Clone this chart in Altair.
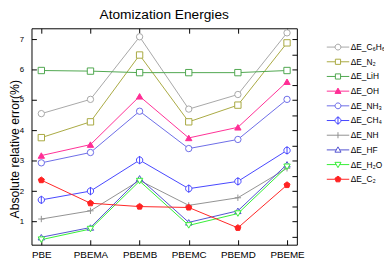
import altair as alt
import pandas as pd

functionals = ["PBE", "PBEMA", "PBEMB", "PBEMC", "PBEMD", "PBEME"]
series = ["ΔE_C₆H₆", "ΔE_N₂", "ΔE_LiH", "ΔE_OH", "ΔE_NH₃",
          "ΔE_CH₄", "ΔE_NH", "ΔE_HF", "ΔE_H₂O", "ΔE_C₂"]

c6h6 = [4.55, 5.02, 7.08, 4.70, 5.18, 7.21]
n2 = [3.76, 4.28, 6.48, 4.28, 4.83, 6.88]
lih = [5.97, 5.95, 5.90, 5.90, 5.90, 5.97]
oh = [3.17, 3.53, 5.12, 3.75, 4.10, 5.60]
nh3 = [2.93, 3.27, 4.63, 3.40, 3.70, 5.02]
ch4 = [1.71, 2.00, 3.02, 2.08, 2.32, 3.34]
nh = [1.08, 1.35, 2.35, 1.53, 1.78, 2.75]
hf = [0.48, 0.80, 2.42, 0.97, 1.35, 2.88]
h2o = [0.40, 0.75, 2.33, 0.87, 1.26, 2.80]
c2 = [2.36, 1.60, 1.49, 1.46, 0.79, 2.20]
values = [c6h6, n2, lih, oh, nh3, ch4, nh, hf, h2o, c2]

colors = ["#a6a6a6", "#a8a840", "#4ea64e", "#ff2d95", "#6a6ae6",
          "#4444ff", "#909090", "#5050d0", "#33ee33", "#ff2222"]
fills = ["white", "white", "white", "#ff2d95", "white",
         "white", "white", "white", "white", "#ff2222"]

PENT = "M0,-1L0.951,-0.309L0.588,0.809L-0.588,0.809L-0.951,-0.309Z"
CIRC_V = "M1,0A1,1,0,1,1,-1,0A1,1,0,1,1,1,0ZM0,-1.3V1.3"
PLUS = "M-1,0H1M0,-1V1"
plot_shapes = ["circle", "square", "square", "triangle-up", "circle",
               CIRC_V, PLUS, "triangle-up", "triangle-down", PENT]

L_CIRC = "M-1,0H-0.26M0.26,0H1M0.26,0A0.26,0.26,0,1,1,-0.26,0A0.26,0.26,0,1,1,0.26,0Z"
L_SQ = "M-1,0H-0.23M0.23,0H1M-0.23,-0.23H0.23V0.23H-0.23Z"
L_TRU = "M-1,0H-0.15M0.15,0H1M0,-0.27L0.27,0.2H-0.27Z"
L_TRD = "M-1,0H-0.15M0.15,0H1M0,0.27L0.27,-0.2H-0.27Z"
L_PLUS = "M-1,0H1M0,-0.27V0.27"
L_CIRC_V = L_CIRC + "M0,-0.38V0.38"
L_PENT = "M-1,0H-0.27M0.27,0H1M0,-0.28L0.266,-0.087L0.165,0.227L-0.165,0.227L-0.266,-0.087Z"
legend_shapes = [L_CIRC, L_SQ, L_SQ, L_TRU, L_CIRC, L_CIRC_V, L_PLUS, L_TRU, L_TRD, L_PENT]

rows = []
for name, vals in zip(series, values):
    for f, v in zip(functionals, vals):
        rows.append({"functional": f, "series": name, "value": v})
df = pd.DataFrame(rows)

FONT = "Liberation Sans"
xscale = alt.Scale(type="point", domain=functionals, padding=0.2)
yscale = alt.Scale(domain=[0.235, 7.36], nice=False, zero=False)
half_ticks = [0.5 * i for i in range(1, 15)]

base = alt.Chart(df)

lines = base.mark_line(strokeWidth=1).encode(
    x=alt.X("functional:N", scale=xscale, sort=functionals,
            axis=alt.Axis(orient="bottom", ticks=False, tickSize=0, domain=False,
                          labelFontSize=10, labelPadding=5, labelAngle=0,
                          labelFont=FONT, labelColor="black", title=None)),
    y=alt.Y("value:Q", scale=yscale,
            axis=alt.Axis(orient="left", values=[1, 2, 3, 4, 5, 6, 7], ticks=False,
                          tickSize=0, domain=False, grid=False, labelFontSize=8,
                          labelPadding=8, labelFont=FONT, labelColor="black",
                          title="Absolute relative error(%)", titleFont=FONT,
                          titleFontSize=12.5, titleFontWeight="normal",
                          titleColor="black", titleX=-13, titleY=123,
                          titleBaseline="alphabetic")),
    color=alt.Color("series:N", scale=alt.Scale(domain=series, range=colors), legend=None),
)

points = base.mark_point(filled=True, size=42, strokeWidth=1, opacity=1).encode(
    x=alt.X("functional:N", scale=xscale, sort=functionals,
            axis=alt.Axis(orient="top", labels=False, domain=False, ticks=True,
                          tickSize=5, offset=-5, tickColor="black", title=None)),
    y=alt.Y("value:Q", scale=yscale,
            axis=alt.Axis(orient="left", values=[1, 2, 3, 4, 5, 6, 7], labels=False,
                          domain=False, grid=False, tickSize=5, offset=-5,
                          tickColor="black", title=None)),
    shape=alt.Shape("series:N", scale=alt.Scale(domain=series, range=plot_shapes), legend=None),
    stroke=alt.Stroke("series:N", scale=alt.Scale(domain=series, range=colors), legend=None),
    fill=alt.Fill("series:N", scale=alt.Scale(domain=series, range=fills), legend=None),
)

leg = alt.Legend(orient="none", legendX=301, legendY=12, title=None, labelFontSize=8.5,
                 labelFont=FONT, labelColor="black", symbolSize=529,
                 symbolStrokeWidth=1, labelOffset=1, rowPadding=0, padding=0,
                 clipHeight=14.4)

legend_layer = base.transform_filter("false").mark_point(filled=True, strokeWidth=1, opacity=1).encode(
    x=alt.X("functional:N", scale=xscale, sort=functionals,
            axis=alt.Axis(orient="bottom", labels=False, domain=False, ticks=True,
                          tickSize=5, offset=-5, tickColor="black", title=None)),
    y=alt.Y("value:Q", scale=yscale,
            axis=alt.Axis(orient="right", values=half_ticks, labels=False,
                          domain=False, grid=False, tickSize=5, offset=-5,
                          tickColor="black", title=None)),
    shape=alt.Shape("series:N", scale=alt.Scale(domain=series, range=legend_shapes), legend=leg),
    stroke=alt.Stroke("series:N", scale=alt.Scale(domain=series, range=colors), legend=leg),
    fill=alt.Fill("series:N", scale=alt.Scale(domain=series, range=fills), legend=leg),
)

chart = alt.layer(lines, points, legend_layer).resolve_axis(
    x="independent", y="independent"
).resolve_scale(
    shape="independent", stroke="independent", fill="independent", color="independent"
).resolve_legend(
    shape="independent", stroke="independent", fill="independent", color="independent"
).properties(
    width=271, height=221,
    title=alt.TitleParams("Atomization Energies", fontSize=14, fontWeight="normal",
                          font=FONT, color="black", anchor="middle", offset=6),
    autosize=alt.AutoSizeParams(type="none"),
    padding={"left": 24, "top": 18, "right": 89, "bottom": 17},
).configure_view(stroke="black", strokeWidth=1).configure_axis(grid=False)

chart.save("out.html", embed_options={"renderer": "svg", "actions": False})
